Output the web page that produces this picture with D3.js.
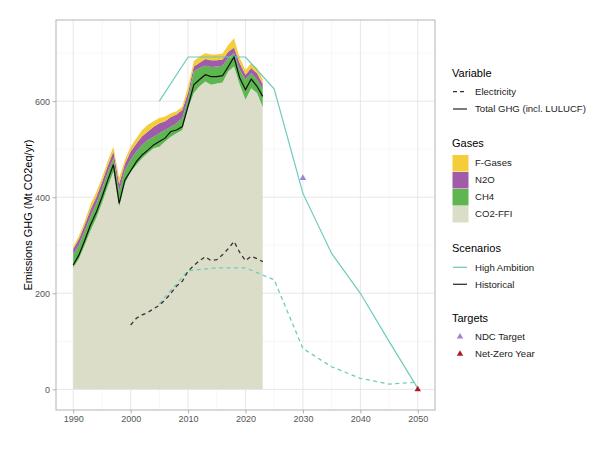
<!DOCTYPE html>
<html>
<head>
<meta charset="UTF-8">
<title>GHG emissions</title>
<script src="https://cdn.jsdelivr.net/npm/d3@7"></script>
<style>
  body { margin: 0; background: #fff; }
  text { font-family: "Liberation Sans", Arial, sans-serif; }
</style>
</head>
<body>
<div id="chart"></div>
<script>
// historical inventory, Mt CO2eq/yr
const years = [1990, 1991, 1992, 1993, 1994, 1995, 1996, 1997, 1998, 1999,
  2000, 2001, 2002, 2003, 2004, 2005, 2006, 2007, 2008, 2009,
  2010, 2011, 2012, 2013, 2014, 2015, 2016, 2017, 2018, 2019,
  2020, 2021, 2022, 2023];
const co2Ffi = [253, 272, 300, 330, 356, 388, 422, 453, 380, 428,
  453, 467, 481, 492, 502, 505, 516, 526, 533, 540,
  585, 617, 631, 641, 634, 637, 639, 662, 672, 634,
  603, 627, 617, 588];
const ch4 = [28, 29, 29, 30, 30, 29, 29, 28, 32, 28,
  25, 28, 28, 27, 24, 28, 24, 21, 21, 25,
  20, 45, 38, 33, 37, 35, 35, 28, 28, 31,
  42, 31, 28, 38];
const n2o = [11, 12, 13, 14, 14, 14, 14, 14, 16, 13,
  17, 17, 18, 18, 21, 21, 18, 20, 18, 17,
  13, 10, 11, 14, 14, 13, 13, 13, 12, 14,
  10, 11, 13, 10];
const fGases = [5, 7, 8, 11, 10, 9, 10, 10, 12, 9,
  10, 11, 13, 14, 11, 11, 10, 8, 7, 7,
  12, 11, 13, 12, 12, 12, 12, 14, 19, 11,
  10, 10, 11, 9];
const totalGhg = [259, 280, 310, 342, 368, 400, 435, 468, 387, 436,
  455, 474, 488, 498, 509, 516, 523, 537, 540, 547,
  590, 634, 645, 655, 651, 651, 653, 672, 692, 648,
  624, 646, 631, 610];

const elecYears = [2000, 2001, 2002, 2003, 2004, 2005, 2006, 2007, 2008, 2009,
  2010, 2011, 2012, 2013, 2014, 2015, 2016, 2017, 2018, 2019,
  2020, 2021, 2022, 2023];
const electricity = [134, 148, 155, 160, 168, 175, 186, 200, 215, 225,
  246, 258, 268, 276, 268, 270, 280, 293, 308, 285,
  268, 277, 272, 266];

// High Ambition scenario
const scenarioYears = [2005, 2010, 2015, 2020, 2025, 2030, 2035, 2040, 2045, 2050];
const haTotal = [600, 692, 692, 692, 625, 408, 283, 200, 100, 2];
const haElectricity = [178, 247, 253, 253, 228, 85, 47, 23, 11, 15];

// targets
const targetNames = ["NDC Target", "Net-Zero Year"];
const targetYears = [2030, 2050];
const targetValues = [440, 0];

const gasNames = ["F-Gases", "N2O", "CH4", "CO2-FFI"];
const xTicks = [1990, 2000, 2010, 2020, 2030, 2040, 2050];
const xMinor = [1995, 2005, 2015, 2025, 2035, 2045];
const yTicks = [0, 200, 400, 600];
const yMinor = [100, 300, 500, 700];

const width = 596;
const height = 452;
const panel = { left: 56, right: 435, top: 20, bottom: 410 };

const gasColor = { "F-Gases": "#f4cd38", "N2O": "#a05ba9", "CH4": "#5db64f", "CO2-FFI": "#dcddc9" };
const teal = "#6fcabd";
const targetColor = { "NDC Target": "#9a86d6", "Net-Zero Year": "#b2182b" };

const svg = d3.select("#chart").append("svg")
  .attr("width", width)
  .attr("height", height);

const x = d3.scaleLinear().domain([1987, 2053]).range([panel.left, panel.right]);
const y = d3.scaleLinear().domain([-43, 769]).range([panel.bottom, panel.top]);

// grid
const grid = svg.append("g");
grid.selectAll("line.xminor").data(xMinor).enter().append("line")
  .attr("x1", d => x(d)).attr("x2", d => x(d))
  .attr("y1", panel.top).attr("y2", panel.bottom)
  .attr("stroke", "#f1f1f1").attr("stroke-width", 0.6);
grid.selectAll("line.yminor").data(yMinor).enter().append("line")
  .attr("y1", d => y(d)).attr("y2", d => y(d))
  .attr("x1", panel.left).attr("x2", panel.right)
  .attr("stroke", "#f1f1f1").attr("stroke-width", 0.6);
grid.selectAll("line.xmajor").data(xTicks).enter().append("line")
  .attr("x1", d => x(d)).attr("x2", d => x(d))
  .attr("y1", panel.top).attr("y2", panel.bottom)
  .attr("stroke", "#e4e4e4").attr("stroke-width", 0.9);
grid.selectAll("line.ymajor").data(yTicks).enter().append("line")
  .attr("y1", d => y(d)).attr("y2", d => y(d))
  .attr("x1", panel.left).attr("x2", panel.right)
  .attr("stroke", "#e4e4e4").attr("stroke-width", 0.9);

// stacked gases
const table = years.map((yr, i) => ({
  year: yr,
  "CO2-FFI": co2Ffi[i],
  "CH4": ch4[i],
  "N2O": n2o[i],
  "F-Gases": fGases[i]
}));
const stack = d3.stack().keys(["CO2-FFI", "CH4", "N2O", "F-Gases"]);
const area = d3.area()
  .x(d => x(d.data.year))
  .y0(d => y(d[0]))
  .y1(d => y(d[1]));
svg.append("g").selectAll("path")
  .data(stack(table))
  .enter().append("path")
  .attr("d", area)
  .attr("fill", d => gasColor[d.key]);

const line = d3.line().x(d => x(d[0])).y(d => y(d[1]));

// electricity lines
svg.append("path")
  .attr("d", line(scenarioYears.map((yr, i) => [yr, haElectricity[i]])))
  .attr("fill", "none").attr("stroke", teal).attr("stroke-width", 1.3)
  .attr("stroke-dasharray", "4,3.5");
svg.append("path")
  .attr("d", line(elecYears.map((yr, i) => [yr, electricity[i]])))
  .attr("fill", "none").attr("stroke", "#333").attr("stroke-width", 1.3)
  .attr("stroke-dasharray", "4,3.5");

// total GHG lines
svg.append("path")
  .attr("d", line(scenarioYears.map((yr, i) => [yr, haTotal[i]])))
  .attr("fill", "none").attr("stroke", teal).attr("stroke-width", 1.2);
svg.append("path")
  .attr("d", line(years.map((yr, i) => [yr, totalGhg[i]])))
  .attr("fill", "none").attr("stroke", "#111").attr("stroke-width", 1.2);

// targets
const tri = d3.symbol().type(d3.symbolTriangle).size(18);
svg.append("g").selectAll("path")
  .data(targetNames)
  .enter().append("path")
  .attr("d", tri)
  .attr("transform", (d, i) => "translate(" + x(targetYears[i]) + "," + y(targetValues[i]) + ")")
  .attr("fill", d => targetColor[d]);

// border
svg.append("rect")
  .attr("x", panel.left).attr("y", panel.top)
  .attr("width", panel.right - panel.left).attr("height", panel.bottom - panel.top)
  .attr("fill", "none").attr("stroke", "#b3b3b3").attr("stroke-width", 1);

// axes
const xAxis = svg.append("g")
  .attr("transform", "translate(0," + panel.bottom + ")")
  .call(d3.axisBottom(x).tickValues(xTicks).tickFormat(d3.format("d")).tickSize(3.5).tickPadding(2.5));
const yAxis = svg.append("g")
  .attr("transform", "translate(" + panel.left + ",0)")
  .call(d3.axisLeft(y).tickValues(yTicks).tickSize(3.5).tickPadding(2.5));
[xAxis, yAxis].forEach(a => {
  a.select(".domain").remove();
  a.selectAll(".tick line").attr("stroke", "#b3b3b3");
  a.selectAll(".tick text").attr("fill", "#555").style("font-size", "9px")
    .style("font-family", "'Liberation Sans', Arial, sans-serif");
});

svg.append("text")
  .attr("transform", "translate(32," + ((panel.top + panel.bottom) / 2) + ")rotate(-90)")
  .attr("text-anchor", "middle")
  .style("font-size", "11px")
  .text("Emissions GHG (Mt CO2eq/yr)");

// legend
const lg = svg.append("g");
const keyX = 453;
const labelX = 475;

function title(txt, cy) {
  lg.append("text").attr("x", 452).attr("y", cy + 4)
    .style("font-size", "11px").text(txt);
}
function label(txt, cy) {
  lg.append("text").attr("x", labelX).attr("y", cy + 3.3)
    .style("font-size", "9.6px").attr("fill", "#222").text(txt);
}

title("Variable", 73);
lg.append("line").attr("x1", keyX).attr("x2", keyX + 14).attr("y1", 91.7).attr("y2", 91.7)
  .attr("stroke", "#333").attr("stroke-width", 1.3).attr("stroke-dasharray", "4,3");
label("Electricity", 91.7);
lg.append("line").attr("x1", keyX).attr("x2", keyX + 14).attr("y1", 109).attr("y2", 109)
  .attr("stroke", "#333").attr("stroke-width", 1.3);
label("Total GHG (incl. LULUCF)", 109);

title("Gases", 143);
gasNames.forEach((g, i) => {
  lg.append("rect").attr("x", 452.5).attr("y", 155 + i * 17)
    .attr("width", 16).attr("height", 16.5).attr("fill", gasColor[g]);
  label(g, 163 + i * 17);
});

title("Scenarios", 248);
lg.append("line").attr("x1", keyX).attr("x2", keyX + 14).attr("y1", 267.3).attr("y2", 267.3)
  .attr("stroke", teal).attr("stroke-width", 1.3);
label("High Ambition", 267.3);
lg.append("line").attr("x1", keyX).attr("x2", keyX + 14).attr("y1", 284.3).attr("y2", 284.3)
  .attr("stroke", "#333").attr("stroke-width", 1.3);
label("Historical", 284.3);

title("Targets", 318);
targetNames.forEach((t, i) => {
  lg.append("path").attr("d", tri)
    .attr("transform", "translate(" + (keyX + 7) + "," + (336.7 + i * 17.3) + ")")
    .attr("fill", targetColor[t]);
  label(t, 336.7 + i * 17.3);
});
</script>
</body>
</html>
